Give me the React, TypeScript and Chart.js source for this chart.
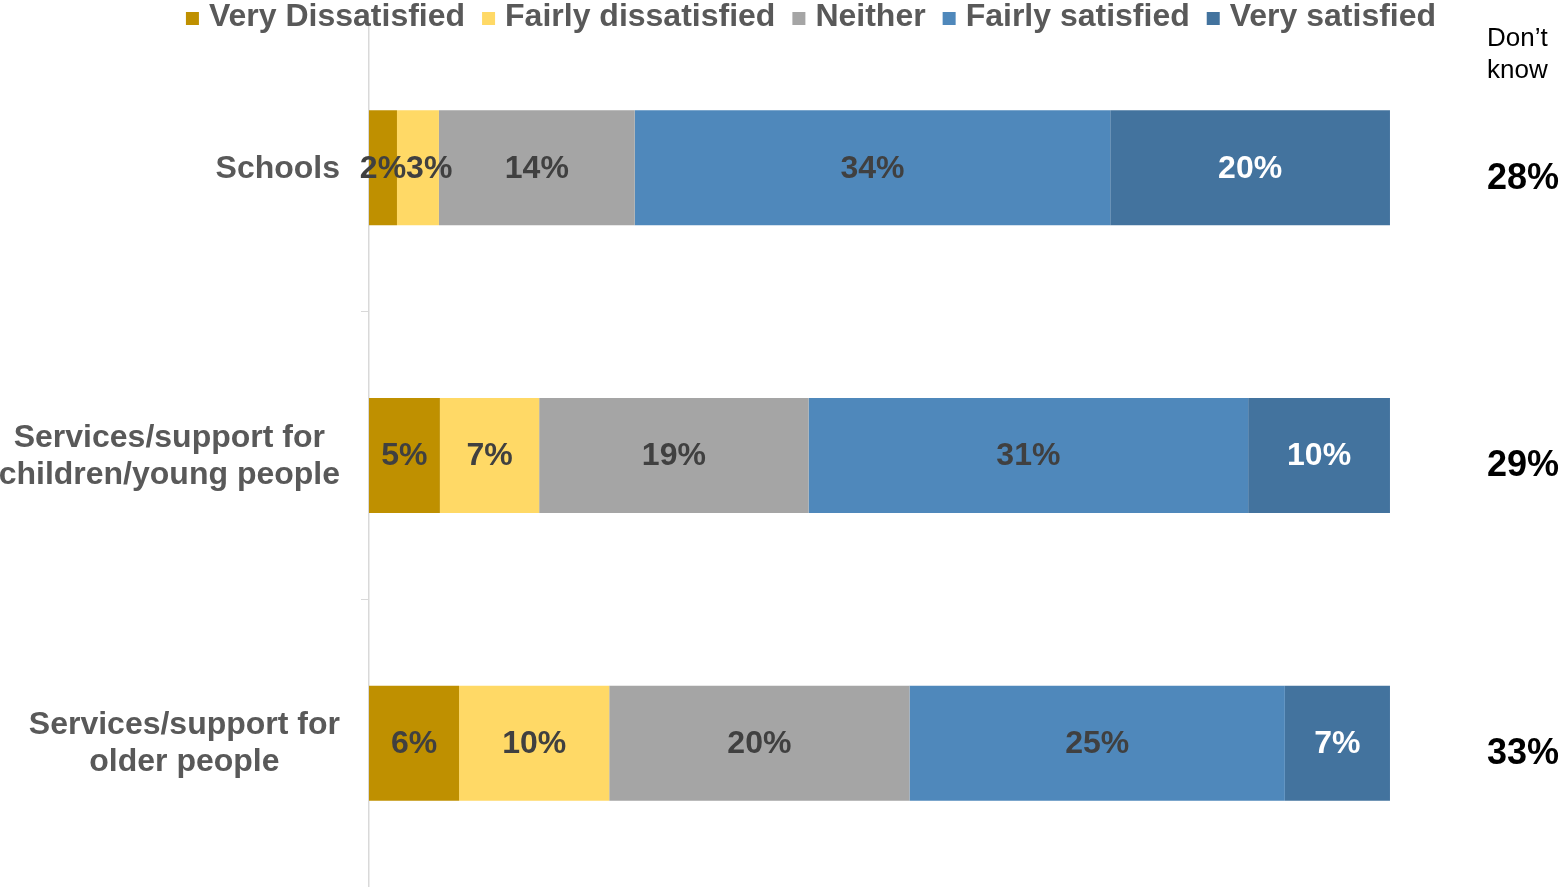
import React, { useEffect, useRef } from "react";
import { Chart, registerables } from "chart.js";

Chart.register(...registerables);

const FONT = "'Liberation Sans', Arial, sans-serif";

const categories = [
  ["Schools"],
  ["Services/support for", "children/young people"],
  ["Services/support for", "older people"],
];
const seriesNames = ["Very Dissatisfied", "Fairly dissatisfied", "Neither", "Fairly satisfied", "Very satisfied"];
const veryDissatisfied = [2, 5, 6];
const fairlyDissatisfied = [3, 7, 10];
const neither = [14, 19, 20];
const fairlySatisfied = [34, 31, 25];
const verySatisfied = [20, 10, 7];
const dontKnow = [28, 29, 33];
const dontKnowHeader = ["Don\u2019t", "know"];
const seriesColors = ["#BF9000", "#FFD966", "#A5A5A5", "#4F88BB", "#43739E"];
const labelColors = ["#404040", "#404040", "#404040", "#404040", "#FFFFFF"];

// x axis max chosen so the 100% bars stop short of the "Don't know" column
const X_MAX = 116.85;

export default function App() {
  const ref = useRef<HTMLCanvasElement | null>(null);

  useEffect(() => {
    if (!ref.current) return;
    const series = [veryDissatisfied, fairlyDissatisfied, neither, fairlySatisfied, verySatisfied];
    const totals = categories.map((_, i) => series.reduce((s, arr) => s + arr[i], 0));

    const datasets = series.map((arr, k) => ({
      label: seriesNames[k],
      data: arr.map((v, i) => (v / totals[i]) * 100),
      rawValues: arr,
      backgroundColor: seriesColors[k],
      borderWidth: 0,
      categoryPercentage: 0.4,
      barPercentage: 1,
    }));

    const textPlugin = {
      id: "textPlugin",
      afterDatasetsDraw(chart: any) {
        const ctx = chart.ctx;
        ctx.save();
        ctx.textBaseline = "middle";
        ctx.textAlign = "center";
        ctx.font = `bold 32px ${FONT}`;
        const n = categories.length;
        for (let i = 0; i < n; i++) {
          let prevEnd = -Infinity;
          chart.data.datasets.forEach((ds: any, k: number) => {
            const el = chart.getDatasetMeta(k).data[i] as any;
            const text = `${ds.rawValues[i]}%`;
            const w = ctx.measureText(text).width;
            let x = (el.x + el.base) / 2;
            if (x - w / 2 < prevEnd) x = prevEnd + w / 2;
            prevEnd = x + w / 2;
            ctx.fillStyle = labelColors[k];
            ctx.fillText(text, x, el.y + 1);
          });
        }
        ctx.restore();
      },
      afterDraw(chart: any) {
        const ctx = chart.ctx;
        const yScale = chart.scales.y;
        const area = chart.chartArea;
        ctx.save();
        // legend
        ctx.font = `bold 32px ${FONT}`;
        ctx.textBaseline = "alphabetic";
        ctx.textAlign = "left";
        const items = chart.data.datasets.map((ds: any) => ({
          text: ds.label,
          color: ds.backgroundColor,
          w: 23 + ctx.measureText(ds.label).width,
        }));
        const gap = 17;
        const total = items.reduce((s: number, it: any) => s + it.w, 0) + gap * (items.length - 1);
        let lx = 811 - total / 2;
        items.forEach((it: any) => {
          ctx.fillStyle = it.color;
          ctx.fillRect(lx, 12, 13, 13);
          ctx.fillStyle = "#595959";
          ctx.fillText(it.text, lx + 23, 26);
          lx += it.w + gap;
        });
        // category labels: block right-aligned, lines centered
        ctx.fillStyle = "#595959";
        ctx.textBaseline = "middle";
        ctx.textAlign = "center";
        const lineH = 37;
        categories.forEach((lines, i) => {
          const y = yScale.getPixelForValue(i);
          const maxW = Math.max(...lines.map((l) => ctx.measureText(l).width));
          const right = area.left - 29;
          const cx = right - maxW / 2;
          lines.forEach((l, j) => {
            ctx.fillText(l, cx, y + (j - (lines.length - 1) / 2) * lineH + 1);
          });
        });
        // Don't know header
        ctx.font = `26px ${FONT}`;
        ctx.fillStyle = "#000000";
        ctx.textAlign = "left";
        dontKnowHeader.forEach((l, j) => {
          ctx.fillText(l, 1487, 39 + j * 32);
        });
        // Don't know values
        ctx.font = `bold 36px ${FONT}`;
        dontKnow.forEach((v, i) => {
          const y = yScale.getPixelForValue(i);
          ctx.fillText(`${v}%`, 1487, y + 11);
        });
        ctx.restore();
      },
    };

    const chart = new Chart(ref.current, {
      type: "bar",
      data: { labels: categories as any, datasets: datasets as any },
      options: {
        indexAxis: "y",
        responsive: false,
        animation: false,
        layout: { padding: { top: 24, left: 0, right: 0, bottom: 0 } },
        plugins: {
          tooltip: { enabled: false },
          legend: { display: false },
        },
        scales: {
          x: { stacked: true, min: 0, max: X_MAX, display: false },
          y: {
            stacked: true,
            offset: true,
            grid: {
              display: true,
              drawOnChartArea: false,
              drawTicks: true,
              tickLength: 8,
              color: "#D9D9D9",
              offset: true,
            },
            border: { display: true, color: "#D9D9D9", width: 1.5 },
            ticks: { display: false },
            afterFit: (s: any) => {
              s.width = 369;
            },
          } as any,
        },
      },
      plugins: [textPlugin],
    });
    return () => chart.destroy();
  }, []);

  return (
    <div style={{ position: "fixed", left: 0, top: 0, width: 1562, height: 887, background: "#fff" }}>
      <canvas ref={ref} width={1562} height={887} />
    </div>
  );
}
